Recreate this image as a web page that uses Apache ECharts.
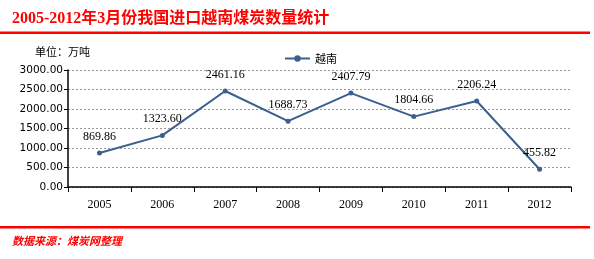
<!DOCTYPE html>
<html><head><meta charset="utf-8">
<script src="https://cdn.jsdelivr.net/npm/echarts@6/dist/echarts.min.js"></script>
<style>html,body{margin:0;padding:0;background:#fff}#c{width:594px;height:259px}</style>
</head><body><div id="c"></div>
<script>
var categories = ['2005','2006','2007','2008','2009','2010','2011','2012'];
var vietnam = [869.86, 1323.60, 2461.16, 1688.73, 2407.79, 1804.66, 2206.24, 455.82];
var seriesName = '越南';

var chart = echarts.init(document.getElementById('c'), null, {renderer: 'canvas'});
chart.setOption({
  animation: false,
  backgroundColor: '#fff',
  title: {
    text: '2005-2012年3月份我国进口越南煤炭数量统计',
    left: 7, top: 6,
    textStyle: {color: '#ff0000', fontSize: 16, fontWeight: 'bold', fontFamily: '"Liberation Serif","Noto Sans CJK SC",serif'}
  },
  legend: {
    data: [seriesName],
    left: 279, top: 48,
    itemWidth: 25, itemHeight: 8, itemGap: 4,
    textStyle: {fontSize: 11, color: '#000', fontFamily: '"Noto Sans CJK SC",sans-serif'}
  },
  graphic: [
    {type: 'rect', shape: {x: 0, y: 31.5, width: 590, height: 2.5}, style: {fill: '#ff0000'}},
    {type: 'rect', shape: {x: 0, y: 226, width: 590, height: 2.5}, style: {fill: '#ff0000'}},
    {type: 'text', left: 35, top: 46, style: {text: '单位：万吨', fontSize: 11, fill: '#000', fontFamily: '"Noto Sans CJK SC",sans-serif'}},
    {type: 'text', left: 12, top: 235, style: {text: '数据来源：煤炭网整理', fontSize: 11, fontWeight: 'bold', fontStyle: 'italic', fill: '#ff0000', fontFamily: '"Noto Sans CJK SC",sans-serif'}}
  ],
  grid: {left: 68, right: 23, top: 70, bottom: 72},
  xAxis: {
    type: 'category', data: categories, boundaryGap: true,
    axisLine: {lineStyle: {color: '#000', width: 1.5}},
    axisTick: {show: true, alignWithLabel: false, length: 5, lineStyle: {color: '#000'}},
    axisLabel: {color: '#000', fontSize: 12, margin: 12, fontFamily: '"Liberation Serif",serif'}
  },
  yAxis: {
    type: 'value', min: 0, max: 3000, interval: 500,
    axisLine: {show: true, lineStyle: {color: '#000', width: 1.5}},
    axisTick: {show: true, length: 4, lineStyle: {color: '#000'}},
    axisLabel: {color: '#000', fontSize: 10.5, margin: 5, fontFamily: '"DejaVu Sans",sans-serif',
      formatter: function(v){ return v.toFixed(2); }},
    splitLine: {show: true, lineStyle: {color: '#999', type: [2, 2], width: 1}}
  },
  series: [{
    name: seriesName, type: 'line', data: vietnam,
    symbol: 'circle', symbolSize: 5,
    lineStyle: {color: '#3b5f8e', width: 2},
    itemStyle: {color: '#3b5f8e'},
    label: {show: true, position: 'top', distance: 8, color: '#000', fontSize: 12,
      fontFamily: '"Liberation Serif",serif',
      formatter: function(p){ return p.value.toFixed(2); }}
  }]
});
</script></body></html>
